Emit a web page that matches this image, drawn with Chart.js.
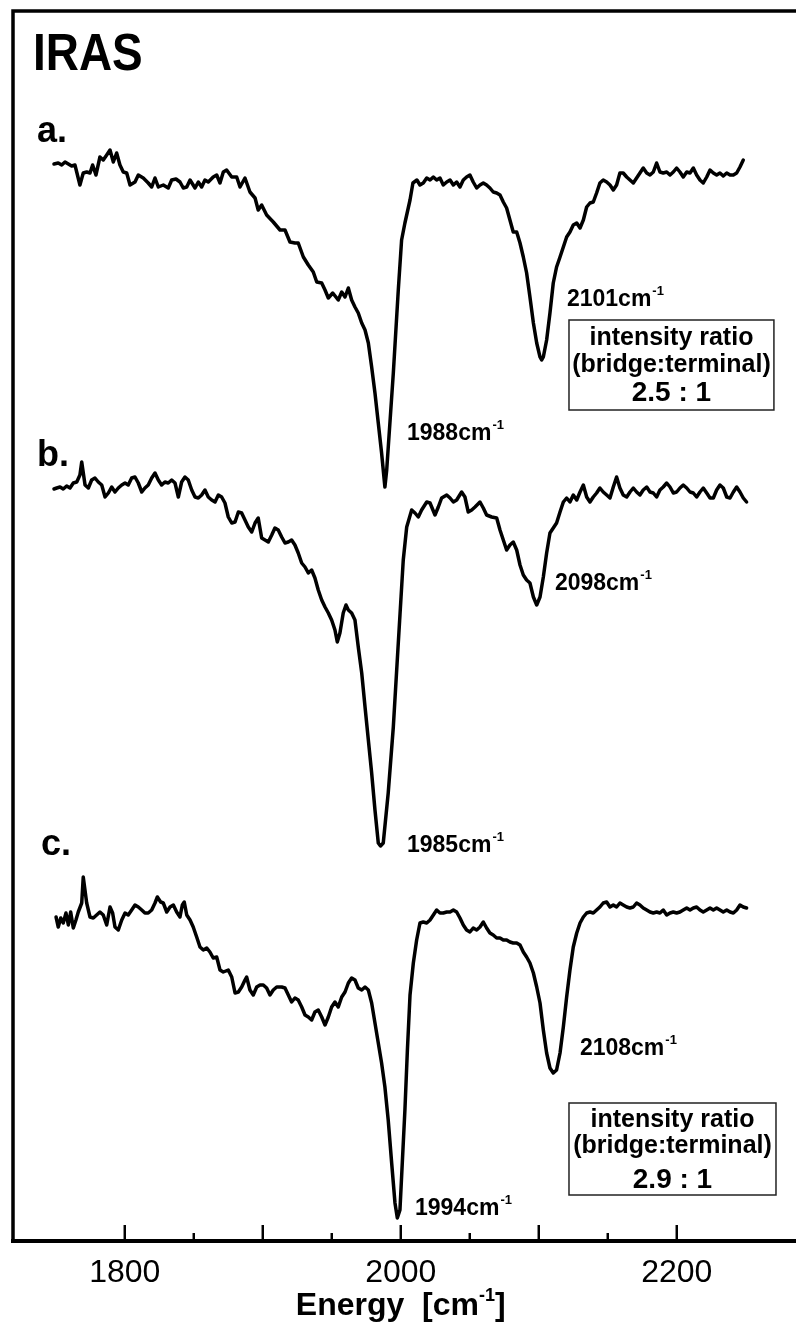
<!DOCTYPE html>
<html>
<head>
<meta charset="utf-8">
<script src="https://cdn.jsdelivr.net/npm/chart.js@4.4.0/dist/chart.umd.min.js"></script>
<style>
  html, body { margin: 0; padding: 0; background: #fff; overflow: hidden; }
  #wrap { width: 800px; height: 1325px; }
</style>
</head>
<body>
<div id="wrap"><canvas id="iras" width="800" height="1325"></canvas></div>
<script>
// [wavenumber cm-1, signal a.u.] - traces are stacked with their offsets
const spectrumA = [
  [1748.7,107.7],[1751.8,107.8],[1754.3,107.6],[1756.7,107.9],[1759.1,107.7],[1761.5,107.5],[1763.9,107.6],[1767.5,105.6],
  [1769.9,106.8],[1772.4,106.9],[1774.8,106.8],[1776.7,107.6],[1779.1,106.6],[1782.0,108.4],[1784.4,108.1],[1786.9,108.6],
  [1789.3,109.1],[1791.7,107.9],[1794.1,108.8],[1796.5,107.6],[1798.9,106.9],[1801.4,106.8],[1803.8,105.6],[1807.4,105.9],
  [1809.8,106.6],[1813.4,106.3],[1817.0,105.8],[1819.5,105.4],[1821.9,106.3],[1824.3,105.4],[1827.9,105.6],[1831.5,105.3],
  [1834.0,106.1],[1837.1,106.2],[1840.0,105.9],[1842.4,105.3],[1844.9,105.4],[1847.3,106.1],[1850.9,105.3],[1853.3,105.9],
  [1855.7,105.4],[1858.1,106.1],[1860.5,105.9],[1864.1,106.4],[1866.6,106.6],[1869.0,105.8],[1871.4,106.9],[1873.8,107.1],
  [1877.5,106.4],[1881.1,106.4],[1883.5,105.4],[1887.1,106.3],[1890.7,104.9],[1894.4,104.3],[1896.7,103.1],[1899.2,103.6],
  [1902.8,102.6],[1907.6,101.9],[1912.5,101.1],[1916.1,101.1],[1919.7,99.9],[1923.3,99.8],[1925.7,99.8],[1929.4,98.4],
  [1933.0,97.6],[1936.6,96.9],[1939.1,95.9],[1942.7,95.8],[1945.1,95.1],[1947.5,94.3],[1950.7,94.8],[1953.0,94.4],
  [1954.7,94.1],[1957.2,94.9],[1959.6,94.4],[1962.0,95.3],[1964.4,94.1],[1966.8,93.4],[1969.2,92.8],[1971.7,91.8],
  [1974.1,91.1],[1976.5,89.8],[1978.9,87.4],[1981.3,84.8],[1983.7,81.8],[1986.1,78.8],[1988.5,75.4],[1989.8,77.1],
  [1994.6,86.8],[1998.2,95.1],[2000.6,100.1],[2003.0,101.8],[2006.7,104.1],[2008.8,105.8],[2011.7,106.1],[2013.9,105.6],
  [2016.3,105.8],[2018.8,106.3],[2021.2,106.1],[2023.6,106.4],[2026.0,106.1],[2028.4,106.3],[2030.8,105.6],[2033.3,105.9],
  [2035.7,106.1],[2038.1,105.6],[2040.5,105.9],[2042.9,105.4],[2045.3,106.1],[2047.7,106.4],[2050.1,106.6],[2052.5,105.9],
  [2055.0,105.3],[2057.4,105.6],[2059.8,105.8],[2062.2,105.6],[2064.6,105.3],[2067.0,104.9],[2069.5,104.8],[2071.9,104.6],
  [2074.3,103.9],[2076.7,103.3],[2079.1,102.1],[2081.5,100.9],[2084.0,100.9],[2086.4,99.8],[2088.8,98.4],[2091.2,96.8],
  [2093.6,94.4],[2096.1,91.8],[2098.5,89.8],[2100.9,88.4],[2102.1,88.1],[2103.3,88.4],[2105.7,90.1],[2108.1,92.8],
  [2110.5,95.8],[2112.9,97.4],[2115.4,98.4],[2117.8,99.4],[2120.2,100.4],[2122.6,100.9],[2125.0,101.6],[2127.5,101.8],
  [2129.9,101.3],[2132.3,102.1],[2134.7,103.4],[2137.1,103.8],[2139.5,103.9],[2141.9,104.8],[2144.3,105.8],[2146.7,106.1],
  [2149.2,105.9],[2151.6,105.6],[2154.0,105.1],[2156.4,105.6],[2158.8,106.8],[2161.2,106.8],[2163.7,106.4],[2166.1,106.1],
  [2168.5,105.8],[2170.9,106.3],[2173.3,106.8],[2175.7,107.3],[2178.2,106.8],[2180.6,106.6],[2183.0,106.9],[2185.4,107.8],
  [2187.8,106.9],[2190.2,106.8],[2192.7,106.9],[2195.1,106.6],[2197.5,106.9],[2199.9,107.3],[2202.3,106.9],[2204.7,106.4],
  [2207.2,106.9],[2209.6,106.8],[2212.0,107.3],[2214.4,106.6],[2216.8,106.1],[2219.2,105.8],[2221.7,106.4],[2224.1,107.1],
  [2226.5,106.8],[2228.9,106.6],[2231.3,106.8],[2233.7,106.5],[2236.2,106.8],[2238.6,106.6],[2241.0,106.6],[2243.4,106.8],
  [2245.8,107.4],[2248.2,108.1]
];

const spectrumB = [
  [1748.7,75.2],[1750.7,75.3],[1753.1,75.4],[1755.4,75.2],[1757.9,75.5],[1760.3,75.3],[1762.7,75.8],[1765.2,75.9],
  [1767.5,76.6],[1768.8,77.9],[1771.2,75.6],[1773.6,75.3],[1776.0,76.1],[1778.4,76.3],[1780.8,75.9],[1783.3,75.6],
  [1785.7,74.4],[1788.1,74.8],[1790.5,75.4],[1792.9,74.9],[1795.3,75.3],[1797.8,75.6],[1800.2,75.8],[1802.5,75.6],
  [1805.0,76.3],[1807.4,76.4],[1809.8,75.8],[1812.3,74.9],[1814.6,75.3],[1817.0,75.6],[1819.5,76.3],[1821.9,76.8],
  [1824.3,76.1],[1826.7,75.6],[1829.1,75.9],[1831.5,75.8],[1834.0,76.1],[1836.4,75.8],[1838.8,74.4],[1841.2,75.9],
  [1843.6,76.4],[1846.0,76.1],[1848.5,75.1],[1850.9,74.4],[1853.3,74.3],[1855.7,74.6],[1858.1,75.1],[1860.5,74.4],
  [1863.0,74.1],[1865.4,73.9],[1867.8,74.6],[1870.2,74.4],[1872.6,73.8],[1875.0,72.4],[1877.5,71.8],[1879.9,71.9],
  [1882.3,72.9],[1884.7,72.8],[1887.1,72.1],[1889.5,71.4],[1892.0,70.9],[1894.4,71.8],[1896.7,72.3],[1899.2,70.3],
  [1901.6,70.1],[1904.0,69.9],[1906.5,70.6],[1908.8,71.3],[1911.2,71.1],[1913.7,70.4],[1916.1,69.8],[1918.5,69.9],
  [1920.9,70.1],[1923.3,69.6],[1925.7,68.8],[1928.2,67.8],[1930.6,67.4],[1933.0,66.8],[1935.4,67.1],[1937.8,66.3],
  [1940.2,65.1],[1942.7,64.1],[1945.1,63.4],[1947.5,62.8],[1949.9,62.1],[1952.3,61.1],[1954.0,59.9],[1955.9,60.8],
  [1958.3,62.8],[1960.3,63.6],[1962.0,63.1],[1964.4,62.8],[1966.8,62.1],[1969.2,59.4],[1971.7,56.8],[1974.1,53.4],
  [1976.5,50.1],[1978.9,46.8],[1981.3,43.1],[1983.7,39.8],[1985.3,39.5],[1987.3,39.8],[1990.9,44.8],[1994.6,51.4],
  [1998.2,59.8],[2001.8,68.1],[2004.3,71.4],[2007.9,73.1],[2010.3,72.8],[2012.7,72.4],[2015.1,73.1],[2018.8,73.9],
  [2021.2,73.8],[2024.8,72.6],[2027.2,73.4],[2029.6,74.3],[2033.3,74.6],[2035.7,74.3],[2038.1,73.9],[2040.5,74.1],
  [2044.1,74.9],[2046.5,74.4],[2048.9,72.9],[2051.4,73.1],[2053.8,73.4],[2057.4,73.9],[2059.8,73.3],[2062.2,72.6],
  [2065.9,72.4],[2069.5,72.3],[2071.9,71.1],[2074.3,70.1],[2076.7,69.1],[2079.1,69.6],[2081.5,69.9],[2084.0,69.1],
  [2086.4,67.6],[2088.8,66.6],[2091.2,66.1],[2093.6,65.8],[2096.1,64.4],[2098.5,63.6],[2100.9,64.4],[2103.3,66.4],
  [2105.7,68.8],[2108.1,70.8],[2110.5,71.3],[2112.9,71.8],[2115.4,72.9],[2117.8,73.9],[2120.2,74.3],[2122.6,73.9],
  [2125.0,74.6],[2127.5,74.1],[2129.9,74.9],[2132.3,75.6],[2134.7,74.4],[2137.1,73.9],[2139.5,74.4],[2141.9,74.8],
  [2144.3,75.3],[2146.7,74.9],[2149.2,74.6],[2151.6,74.3],[2154.0,75.4],[2156.4,76.4],[2158.8,75.3],[2161.2,74.6],
  [2163.7,74.4],[2166.1,74.9],[2168.5,75.3],[2170.9,74.9],[2173.3,74.6],[2175.7,75.1],[2178.2,75.4],[2180.6,74.9],
  [2183.0,74.8],[2185.4,74.4],[2187.8,75.1],[2190.2,75.4],[2192.7,75.8],[2195.1,75.4],[2197.5,74.8],[2199.9,74.9],
  [2202.3,75.3],[2204.7,75.6],[2207.2,75.3],[2209.6,74.9],[2212.0,74.8],[2214.4,74.4],[2216.8,74.9],[2219.2,75.3],
  [2221.7,74.8],[2224.1,74.3],[2226.5,74.3],[2228.9,75.1],[2231.3,75.6],[2233.7,75.3],[2236.2,74.4],[2238.6,74.3],
  [2241.0,74.9],[2243.4,75.4],[2245.8,74.9],[2248.2,74.3],[2250.6,73.9]
];

const spectrumC = [
  [1750.2,32.4],[1751.8,31.4],[1753.6,32.3],[1755.4,31.8],[1757.4,32.8],[1759.1,31.6],[1760.8,32.9],[1762.7,31.3],
  [1764.6,32.1],[1766.3,32.9],[1768.8,33.8],[1769.9,36.4],[1772.4,33.8],[1774.8,32.4],[1777.2,32.3],[1779.6,32.6],
  [1782.0,32.9],[1784.4,32.6],[1786.9,31.6],[1789.3,33.4],[1791.2,32.8],[1792.9,31.4],[1795.3,31.1],[1797.8,32.1],
  [1800.2,32.8],[1802.5,32.6],[1805.0,33.1],[1807.4,33.6],[1809.8,33.4],[1812.3,33.1],[1814.6,32.8],[1817.0,32.8],
  [1819.5,33.1],[1821.9,33.8],[1823.6,34.4],[1826.0,33.9],[1827.9,33.8],[1830.4,32.9],[1832.8,33.4],[1835.2,33.6],
  [1837.6,32.9],[1840.0,32.4],[1841.7,33.6],[1843.1,33.9],[1844.9,32.6],[1847.3,32.1],[1849.6,31.4],[1852.1,30.4],
  [1854.5,29.4],[1856.9,29.1],[1859.4,29.3],[1861.7,28.9],[1864.1,28.3],[1866.6,28.4],[1869.0,27.1],[1871.4,26.9],
  [1875.0,27.1],[1877.5,26.4],[1879.9,24.8],[1882.3,24.9],[1884.7,25.4],[1887.1,26.1],[1888.3,26.4],[1890.7,25.1],
  [1893.1,24.6],[1895.6,25.4],[1898.0,25.6],[1900.4,25.6],[1902.8,25.3],[1905.2,24.6],[1907.6,25.1],[1910.1,25.4],
  [1913.7,25.4],[1916.1,25.3],[1918.5,24.6],[1920.9,23.9],[1923.3,24.3],[1925.7,24.1],[1928.2,23.4],[1930.6,22.6],
  [1933.0,22.4],[1935.4,22.1],[1937.8,22.9],[1940.2,23.1],[1942.7,22.4],[1945.1,21.6],[1947.5,22.4],[1949.9,23.4],
  [1952.3,23.9],[1954.7,23.4],[1957.2,24.4],[1959.6,24.9],[1962.0,25.8],[1964.4,26.3],[1966.8,26.1],[1969.2,25.3],
  [1971.7,25.1],[1974.1,25.4],[1976.5,25.1],[1978.9,23.8],[1981.3,21.8],[1983.7,19.8],[1986.1,17.8],[1988.5,15.4],
  [1990.9,12.1],[1993.4,7.8],[1995.8,3.8],[1997.5,2.3],[1999.4,3.1],[2001.2,8.1],[2003.0,13.1],[2004.8,19.1],
  [2006.7,24.6],[2009.1,27.8],[2011.5,30.1],[2013.9,31.8],[2016.3,31.9],[2018.8,31.8],[2021.2,32.1],[2023.6,32.6],
  [2026.0,33.1],[2028.4,32.8],[2030.8,32.8],[2033.3,32.9],[2035.7,32.9],[2038.1,33.1],[2040.5,32.9],[2042.9,32.3],
  [2045.3,31.6],[2047.7,31.1],[2050.1,30.9],[2052.5,31.3],[2055.0,31.1],[2057.4,31.4],[2059.8,31.9],[2062.2,31.3],
  [2064.6,30.8],[2067.0,30.6],[2069.5,30.3],[2071.9,30.3],[2074.3,30.1],[2076.7,30.1],[2079.1,29.9],[2081.5,29.8],
  [2084.0,29.8],[2086.4,29.6],[2088.8,28.9],[2091.2,28.4],[2093.6,27.8],[2096.1,26.8],[2098.5,25.4],[2100.9,23.8],
  [2103.3,21.1],[2105.7,18.8],[2108.1,17.3],[2110.5,16.8],[2112.9,17.1],[2115.4,18.8],[2117.8,21.4],[2120.2,24.4],
  [2122.6,27.1],[2125.0,29.4],[2127.5,30.8],[2129.9,31.8],[2132.3,32.4],[2134.7,32.8],[2137.1,32.9],[2139.5,32.8],
  [2141.9,33.1],[2144.3,33.4],[2146.7,33.8],[2149.2,33.9],[2151.6,33.4],[2154.0,33.6],[2156.4,33.4],[2158.8,33.8],
  [2161.2,33.6],[2163.7,33.4],[2166.1,33.3],[2168.5,33.4],[2170.9,33.8],[2173.3,33.6],[2175.7,33.3],[2178.2,33.1],
  [2180.6,32.9],[2183.0,32.8],[2185.4,32.9],[2187.8,32.8],[2190.2,33.1],[2192.7,32.6],[2195.1,32.8],[2197.5,32.9],
  [2199.9,32.8],[2202.3,32.9],[2204.7,33.1],[2207.2,33.3],[2209.6,33.1],[2212.0,33.3],[2214.4,33.4],[2216.8,33.1],
  [2219.2,32.9],[2221.7,33.1],[2224.1,33.3],[2226.5,33.1],[2228.9,33.3],[2231.3,33.1],[2233.7,32.9],[2236.2,33.1],
  [2238.6,32.9],[2241.0,32.8],[2243.4,33.1],[2245.8,33.6],[2248.2,33.4],[2250.6,33.3]
];

const tickLabels = [1800, 2000, 2200];
const majorTicks = [1800, 1900, 2000, 2100, 2200];
const minorTicks = [1850, 1950, 2050, 2150];

const peakNames = ['1988', '2101', '2098', '1985', '2108', '1994'];
const ratioTexts = ['2.5 : 1', '2.9 : 1'];

const FONT = "'Liberation Sans', Arial, Helvetica, sans-serif";

// where the texts sit, in data units of the chart
const peakSpots = [[2004.5, 80.1], [2120.4, 93.5], [2111.7, 65.1], [2004.5, 38.9], [2129.8, 18.6], [2010.3, 2.6]];
const traceSpots = [['a.', 1736.4, 109.9], ['b.', 1736.4, 77.5], ['c.', 1739.3, 38.6]];
const boxSpots = [
  { x0: 2121.9, x1: 2270.4, y0: 92.1, y1: 83.1, lines: [89.6, 86.9, 84.0] },
  { x0: 2121.9, x1: 2271.9, y0: 13.8, y1: 4.6, lines: [11.4, 8.8, 5.3] }
];

function toXY(arr) {
  return arr.map(function (p) { return { x: p[0], y: p[1] }; });
}

function withSup(ctx, x, y, base, size, sup) {
  ctx.font = 'bold ' + size + 'px ' + FONT;
  ctx.textAlign = 'left';
  ctx.fillText(base, x, y);
  var w = ctx.measureText(base).width;
  ctx.font = 'bold ' + Math.round(size * 0.58) + 'px ' + FONT;
  ctx.fillText(sup, x + w + 1, y - size * 0.46);
}

const decor = {
  id: 'decor',
  afterDraw: function (chart) {
    var ctx = chart.ctx, a = chart.chartArea;
    var sx = chart.scales.x, sy = chart.scales.y;
    ctx.save();
    ctx.strokeStyle = '#000';
    ctx.fillStyle = '#000';

    // frame: left and top
    ctx.lineWidth = 3.5;
    ctx.beginPath();
    ctx.moveTo(a.left, a.bottom);
    ctx.lineTo(a.left, a.top);
    ctx.lineTo(a.right + 4, a.top);
    ctx.stroke();

    // inward ticks on the energy axis
    ctx.lineWidth = 2.5;
    majorTicks.forEach(function (v) {
      var px = sx.getPixelForValue(v);
      ctx.beginPath(); ctx.moveTo(px, a.bottom); ctx.lineTo(px, a.bottom - 16); ctx.stroke();
    });
    minorTicks.forEach(function (v) {
      var px = sx.getPixelForValue(v);
      ctx.beginPath(); ctx.moveTo(px, a.bottom); ctx.lineTo(px, a.bottom - 8); ctx.stroke();
    });

    // IRAS heading
    ctx.save();
    ctx.translate(sx.getPixelForValue(1733.5), sy.getPixelForValue(117.1));
    ctx.scale(0.9, 1);
    ctx.font = 'bold 51px ' + FONT;
    ctx.textAlign = 'left';
    ctx.textBaseline = 'alphabetic';
    ctx.fillText('IRAS', 0, 0);
    ctx.restore();

    ctx.textBaseline = 'alphabetic';
    traceSpots.forEach(function (t) {
      ctx.font = 'bold 36px ' + FONT;
      ctx.textAlign = 'left';
      ctx.fillText(t[0], sx.getPixelForValue(t[1]), sy.getPixelForValue(t[2]));
    });

    peakNames.forEach(function (n, i) {
      var p = peakSpots[i];
      withSup(ctx, sx.getPixelForValue(p[0]), sy.getPixelForValue(p[1]), n + 'cm', 23, '-1');
    });

    boxSpots.forEach(function (b, i) {
      var l = sx.getPixelForValue(b.x0), r = sx.getPixelForValue(b.x1);
      var t = sy.getPixelForValue(b.y0), btm = sy.getPixelForValue(b.y1);
      ctx.lineWidth = 1.5;
      ctx.strokeStyle = '#222';
      ctx.strokeRect(l, t, r - l, btm - t);
      var cx = (l + r) / 2;
      ctx.textAlign = 'center';
      ctx.font = 'bold 25px ' + FONT;
      ctx.fillText('intensity ratio', cx, sy.getPixelForValue(b.lines[0]));
      ctx.fillText('(bridge:terminal)', cx, sy.getPixelForValue(b.lines[1]));
      ctx.font = 'bold 28px ' + FONT;
      ctx.fillText(ratioTexts[i], cx, sy.getPixelForValue(b.lines[2]));
    });

    // axis title with superscript
    ctx.font = 'bold 32px ' + FONT;
    var main = 'Energy  [cm';
    var wMain = ctx.measureText(main).width;
    ctx.font = 'bold 18px ' + FONT;
    var wSup = ctx.measureText('-1').width;
    ctx.font = 'bold 32px ' + FONT;
    var wEnd = ctx.measureText(']').width;
    var total = wMain + wSup + wEnd;
    var left = sx.getPixelForValue(2000) - total / 2;
    var base = sx.bottom - 10;
    ctx.textAlign = 'left';
    ctx.fillText(main, left, base);
    ctx.font = 'bold 18px ' + FONT;
    ctx.fillText('-1', left + wMain, base - 14);
    ctx.font = 'bold 32px ' + FONT;
    ctx.fillText(']', left + wMain + wSup, base);

    ctx.restore();
  }
};

const lineStyle = {
  borderColor: '#000',
  borderWidth: 3.5,
  pointRadius: 0,
  fill: false,
  tension: 0,
  borderJoinStyle: 'round',
  borderCapStyle: 'round'
};

new Chart(document.getElementById('iras'), {
  type: 'line',
  data: {
    datasets: [
      Object.assign({ label: 'a', data: toXY(spectrumA) }, lineStyle),
      Object.assign({ label: 'b', data: toXY(spectrumB) }, lineStyle),
      Object.assign({ label: 'c', data: toXY(spectrumC) }, lineStyle)
    ]
  },
  options: {
    responsive: false,
    devicePixelRatio: 1,
    animation: false,
    events: [],
    layout: { padding: { left: 13, top: 11, right: 0, bottom: 0 } },
    plugins: { legend: { display: false }, tooltip: { enabled: false } },
    scales: {
      x: {
        type: 'linear',
        min: 1719,
        max: 2289.3,
        afterBuildTicks: function (s) {
          s.ticks = tickLabels.map(function (v) { return { value: v }; });
        },
        afterFit: function (s) { s.height = 84; },
        ticks: {
          color: '#000',
          font: { family: FONT, size: 32 },
          padding: 13,
          maxRotation: 0,
          autoSkip: false,
          callback: function (v) { return String(v); }
        },
        grid: { display: false, drawTicks: false },
        border: { display: true, color: '#000', width: 4 }
      },
      y: {
        display: false,
        min: 0,
        max: 123
      }
    }
  },
  plugins: [decor]
});
</script>
</body>
</html>
